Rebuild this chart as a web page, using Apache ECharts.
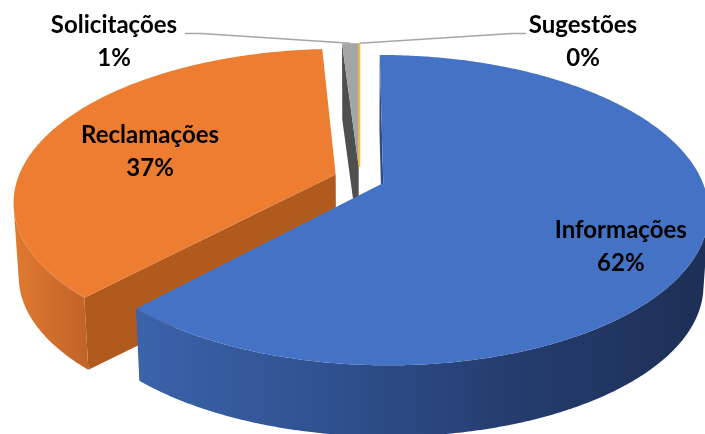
<!DOCTYPE html>
<html>
<head>
<meta charset="utf-8">
<script src="https://cdn.jsdelivr.net/npm/echarts@6.0.0/dist/echarts.min.js"></script>
<style>
  html, body { margin: 0; padding: 0; background: #ffffff; }
  #chart { width: 705px; height: 434px; }
</style>
</head>
<body>
<div id="chart"></div>
<script>
// Categories and their shares (percent)
const categories = ['Informações', 'Reclamações', 'Solicitações', 'Sugestões'];
const shares = [62, 37, 1, 0];

// Fill colours: top face, curved outer wall (gradient stops, left to right), radial cut wall
const topColors = ['#4472C4', '#ED7D31', '#A5A5A5', '#FFC000'];
const wallStops = [
  ['#3b63aa', '#2f518f', '#243c6e', '#1d2f55'],
  ['#df7a31', '#d6722e', '#cb6a2b', '#c06328'],
  ['#7f7f7f', '#6f6f6f', '#606060', '#555555'],
  ['#d9a300', '#c99700', '#b88a00', '#a87e00']
];
const cutColors = ['#2c4d8a', '#b05a1d', '#4f4f4f', '#c49100'];

// Tilted pie plane seen in perspective; walls drop by `depth` and shrink slightly toward the centre
const view = { cx: 359.5, cy: 178.6, rx: 318, ry: 148.9, persp: 0.174, depth: 74, shrink: 0.985, explode: 0.08 };

// Label placement: inside labels sit along the slice bisector, outside ones use leader lines
const labelLayout = [
  { inside: true, r: 0.72, dx: 12, dy: 22 },
  { inside: true, r: 0.65, dx: 0, dy: 8 },
  { inside: false, elbow: [201, 33.5], end: [185, 33.5], text: [114, 41.5] },
  { inside: false, elbow: [512, 33.5], end: [526, 33.5], text: [583, 41.5] }
];
const fontFamily = 'Lato';

const total = shares.reduce((a, b) => a + b, 0);
const starts = [];
shares.reduce((acc, v) => { starts.push(acc); return acc + v; }, 0);

// point on the pie plane (u right, v toward viewer, unit radius) -> top-face pixel
function project(u, v) {
  const w = 1 - view.persp * v;
  return [view.cx + view.rx * u / w, view.cy + view.ry * v / w];
}
// matching pixel on the bottom edge of the wall
function drop(p) {
  return [view.cx + (p[0] - view.cx) * view.shrink, view.cy + (p[1] - view.cy) * view.shrink + view.depth];
}
// signed area (y down): negative means the quad faces the viewer
function facing(q) {
  let s = 0;
  for (let k = 0; k < q.length; k++) {
    const a = q[k], b = q[(k + 1) % q.length];
    s += a[0] * b[1] - b[0] * a[1];
  }
  return s < 0;
}

function renderItem(params, api) {
  const i = params.dataIndex;
  const value = api.value(0);
  const a0 = starts[i] / total * Math.PI * 2;
  const a1 = (starts[i] + value) / total * Math.PI * 2;
  const am = (a0 + a1) / 2;
  const du = view.explode * Math.sin(am);
  const dv = -view.explode * Math.cos(am);
  const zBase = Math.round((1 - Math.cos(am)) * 100) * 4;

  const steps = Math.max(1, Math.ceil((a1 - a0) / (Math.PI / 360)));
  const rimTop = [];
  for (let j = 0; j <= steps; j++) {
    const a = a0 + (a1 - a0) * j / steps;
    rimTop.push(project(Math.sin(a) + du, -Math.cos(a) + dv));
  }
  const rimBot = rimTop.map(drop);
  const apexTop = project(du, dv);
  const apexBot = drop(apexTop);
  const children = [];

  if (value > 0) {
    // curved outer wall: only the runs that face the viewer
    let run = [];
    const flush = () => {
      if (run.length > 1) {
        const pts = run.map(j => rimTop[j]).concat(run.map(j => rimBot[j]).reverse());
        const xs = pts.map(p => p[0]);
        const xMin = Math.min.apply(null, xs), xMax = Math.max.apply(null, xs);
        const stops = wallStops[i].map((c, k, arr) => ({ offset: k / (arr.length - 1), color: c }));
        children.push({
          type: 'polygon', silent: true, z2: zBase + 1,
          shape: { points: pts },
          style: { fill: new echarts.graphic.LinearGradient(xMin, 0, xMax, 0, stops, true) }
        });
      }
      run = [];
    };
    for (let j = 0; j < rimTop.length - 1; j++) {
      if (facing([rimTop[j], rimTop[j + 1], rimBot[j + 1], rimBot[j]])) {
        if (!run.length) run.push(j);
        run.push(j + 1);
      } else {
        flush();
      }
    }
    flush();

    // radial cut walls that face the viewer
    const last = rimTop.length - 1;
    const cuts = [
      [apexTop, rimTop[0], rimBot[0], apexBot],
      [rimTop[last], apexTop, apexBot, rimBot[last]]
    ];
    cuts.forEach(q => {
      if (facing(q) && Math.abs(q[1][0] - q[0][0]) > 0.5) {
        children.push({
          type: 'polygon', silent: true, z2: zBase,
          shape: { points: q },
          style: { fill: cutColors[i] }
        });
      }
    });

    // top face
    children.push({
      type: 'polygon', silent: true, z2: zBase + 2,
      shape: { points: [apexTop].concat(rimTop) },
      style: { fill: topColors[i] }
    });
  } else {
    // an empty slice collapses to a single edge
    children.push({
      type: 'polyline', silent: true, z2: zBase + 2,
      shape: { points: [apexTop, rimTop[0]] },
      style: { stroke: topColors[i], lineWidth: 1.6, fill: null }
    });
  }

  // label
  const lay = labelLayout[i];
  const textStyle = {
    text: categories[i] + '\n' + value + '%',
    fill: '#000000', fontFamily: fontFamily, fontWeight: 'bold', fontSize: 24,
    lineHeight: 33, align: 'center', verticalAlign: 'middle'
  };
  if (lay.inside) {
    const r = lay.r;
    const p = project(r * Math.sin(am) + du, -r * Math.cos(am) + dv);
    children.push({ type: 'text', silent: true, z2: 1000, x: p[0] + lay.dx, y: p[1] + lay.dy, style: textStyle });
  } else {
    const outer = project(Math.sin(am) + du, -Math.cos(am) + dv);
    children.push({
      type: 'polyline', silent: true, z2: 999,
      shape: { points: [outer, lay.elbow, lay.end] },
      style: { stroke: '#a6a6a6', lineWidth: 1.5, fill: null }
    });
    children.push({ type: 'text', silent: true, z2: 1000, x: lay.text[0], y: lay.text[1], style: textStyle });
  }

  return { type: 'group', children: children };
}

const chart = echarts.init(document.getElementById('chart'), null, { renderer: 'canvas' });
chart.setOption({
  animation: false,
  backgroundColor: '#ffffff',
  series: [{
    type: 'custom',
    coordinateSystem: 'none',
    renderItem: renderItem,
    data: shares.map((v, k) => ({ name: categories[k], value: [v] }))
  }]
});
</script>
</body>
</html>
